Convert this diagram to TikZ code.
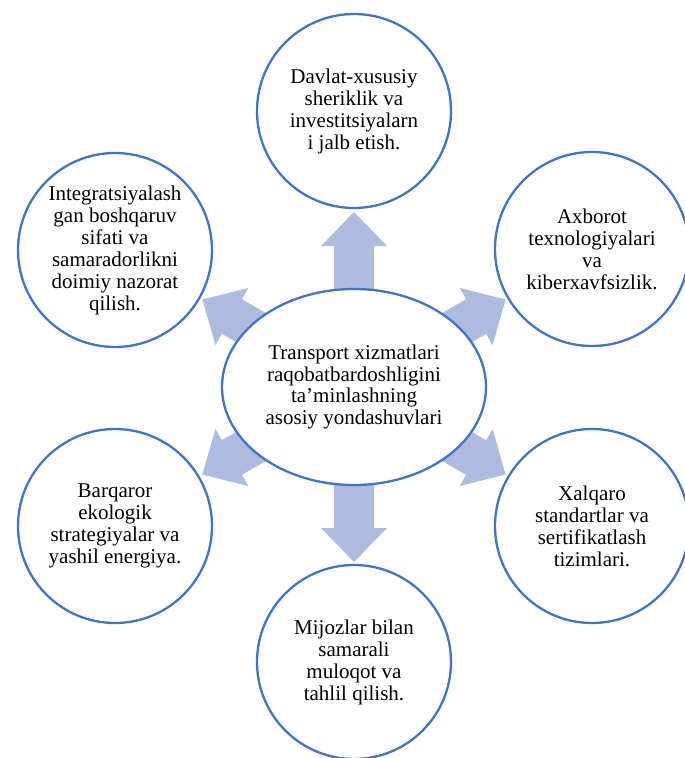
\documentclass[tikz,border=0pt]{standalone}
\usepackage{fontspec}
\setmainfont{Liberation Serif}
\usetikzlibrary{shapes.geometric}
\definecolor{ringblue}{RGB}{68,114,196}
\definecolor{arrowfill}{RGB}{173,187,223}
\tikzset{
  bubble/.style={circle, draw=ringblue, line width=2.3pt, fill=white, minimum size=194pt, inner sep=0pt, align=center, font=\fontsize{21}{22}\selectfont},
  hub/.style={ellipse, draw=ringblue, line width=2.3pt, fill=white, minimum width=264pt, minimum height=196pt, inner sep=0pt, align=center, font=\fontsize{21}{21.8}\selectfont},
  blockarrow/.style={fill=arrowfill, draw=none}
}
\begin{document}
\begin{tikzpicture}[x=1pt,y=-1pt]
\useasboundingbox (0,0) rectangle (685,758);
\clip (0,0) rectangle (685,758);
\coordinate (ctr) at (354,387);
% arrows (behind the hub)
\foreach \a in {90,30,-30,-90,-150,150}{
  \fill[blockarrow, shift={(ctr)}, rotate=\a]
    (80,-20) -- (141,-20) -- (141,-33) -- (175,0) -- (141,33) -- (141,20) -- (80,20) -- cycle;
}
\node[hub] (core) at (ctr) {Transport xizmatlari\\raqobatbardoshligini\\ta’minlashning\\asosiy yondashuvlari};
\node[bubble] (top) at (354,111) {Davlat-xususiy\\sheriklik va\\investitsiyalarn\\i jalb etish.};
\node[bubble] (tr) at (592,249) {Axborot\\texnologiyalari\\va\\kiberxavfsizlik.};
\node[bubble] (br) at (592,526) {Xalqaro\\standartlar va\\sertifikatlash\\tizimlari.};
\node[bubble] (bot) at (354,662) {Mijozlar bilan\\samarali\\muloqot va\\tahlil qilish.};
\node[bubble] (bl) at (115,526) {Barqaror\\ekologik\\strategiyalar va\\yashil energiya.};
\node[bubble] (tl) at (115,250) {Integratsiyalash\\gan boshqaruv\\sifati va\\samaradorlikni\\doimiy nazorat\\qilish.};
\end{tikzpicture}
\end{document}
